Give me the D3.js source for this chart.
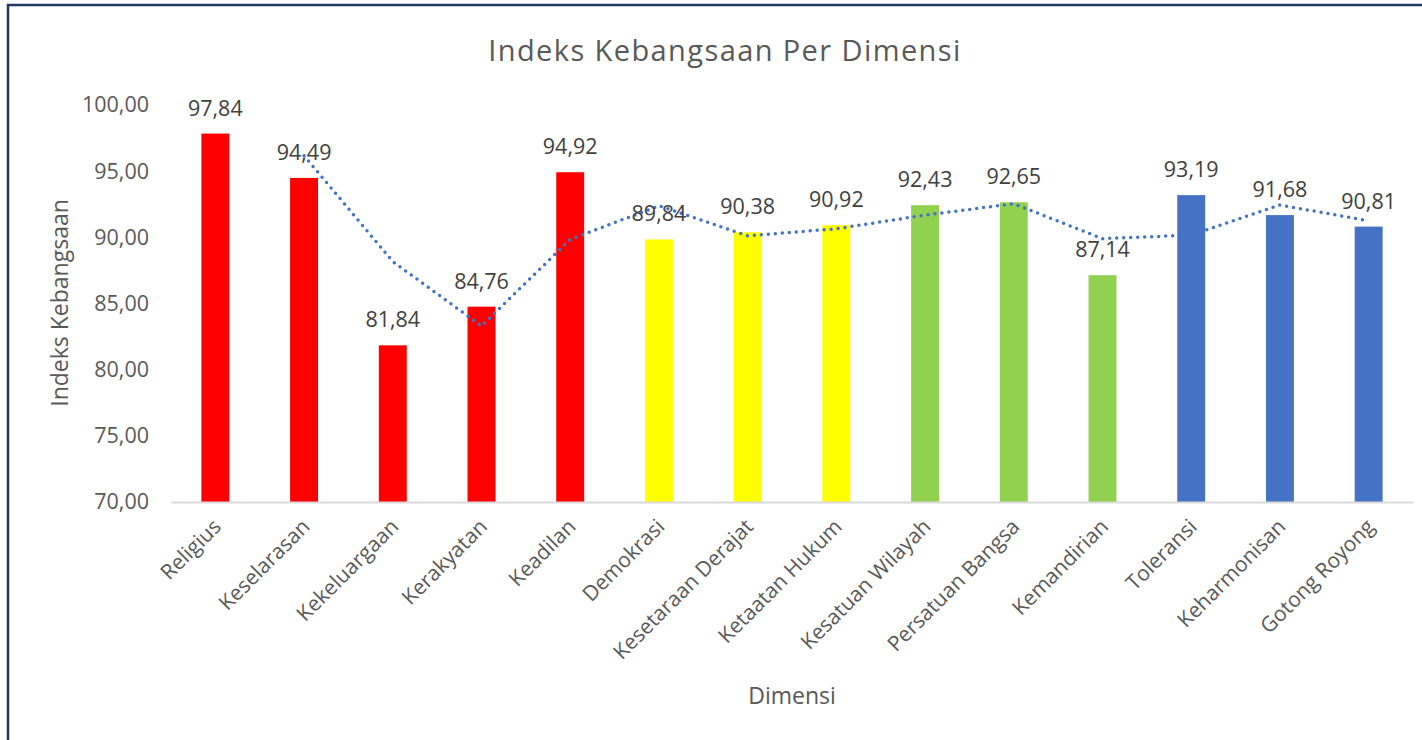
<!DOCTYPE html>
<html>
<head>
<meta charset="utf-8">
<script src="https://cdn.jsdelivr.net/npm/d3@7"></script>
<style>
  html, body { margin: 0; padding: 0; background: #fff; }
  svg { display: block; font-family: "Open Sans", "Noto Sans", sans-serif; }
</style>
</head>
<body>
<svg id="chart" width="1422" height="740"></svg>
<script>
const categories = [
  "Religius", "Keselarasan", "Kekeluargaan", "Kerakyatan", "Keadilan",
  "Demokrasi", "Kesetaraan Derajat", "Ketaatan Hukum", "Kesatuan Wilayah",
  "Persatuan Bangsa", "Kemandirian", "Toleransi", "Keharmonisan", "Gotong Royong"
];
const values = [97.84, 94.49, 81.84, 84.76, 94.92, 89.84, 90.38, 90.92, 92.43, 92.65, 87.14, 93.19, 91.68, 90.81];
const groups = ["r", "r", "r", "r", "r", "y", "y", "y", "g", "g", "g", "b", "b", "b"];
// dotted trend line (starts at the 2nd category)
const trend = [null, 96.17, 88.17, 83.30, 89.84, 92.38, 90.11, 90.65, 91.68, 92.54, 89.90, 90.17, 92.44, 91.25];
const yTicks = [70, 75, 80, 85, 90, 95, 100];

const width = 1422, height = 740;
const marginLeft = 171, marginRight = 9, yTop = 105, yBottom = 502;

const svg = d3.select("#chart");
const fmt = (v) => v.toFixed(2).replace(".", ",");

const color = d3.scaleOrdinal()
  .domain(["r", "y", "g", "b"])
  .range(["#ff0000", "#ffff00", "#92d050", "#4472c4"]);

const x = d3.scaleBand()
  .domain(categories)
  .range([marginLeft, width - marginRight])
  .paddingInner(0.685)
  .paddingOuter(0.3425);

const y = d3.scaleLinear().domain([70, 100]).range([yBottom, yTop]);

// frame
svg.append("path")
  .attr("d", "M8,740 L8,5 L1422,5")
  .attr("fill", "none")
  .attr("stroke", "#1f3864")
  .attr("stroke-width", 2.5);

// title
svg.append("text")
  .attr("x", 725)
  .attr("y", 61)
  .attr("text-anchor", "middle")
  .attr("fill", "#595959")
  .attr("font-size", 29)
  .attr("letter-spacing", 1.4)
  .text("Indeks Kebangsaan Per Dimensi");

// bars
svg.append("g")
  .selectAll("rect")
  .data(values)
  .join("rect")
  .attr("x", (d, i) => x(categories[i]))
  .attr("width", x.bandwidth())
  .attr("y", (d) => y(d))
  .attr("height", (d) => y(70) - y(d))
  .attr("fill", (d, i) => color(groups[i]));

// y axis
const yAxisG = svg.append("g")
  .attr("transform", `translate(${marginLeft},0)`)
  .call(d3.axisLeft(y).tickValues(yTicks).tickFormat(fmt).tickSize(0).tickPadding(22));
yAxisG.select(".domain").remove();
yAxisG.selectAll("text")
  .attr("fill", "#595959")
  .attr("font-size", 21.5)
  .attr("font-family", "Open Sans, Noto Sans, sans-serif");

// x axis
const xAxisG = svg.append("g")
  .attr("transform", `translate(0,${yBottom})`)
  .call(d3.axisBottom(x).tickSize(0).tickSizeOuter(0));
xAxisG.select(".domain").attr("stroke", "#d9d9d9").attr("stroke-width", 2);
xAxisG.selectAll("text")
  .attr("fill", "#595959")
  .attr("font-size", 21)
  .attr("font-family", "Open Sans, Noto Sans, sans-serif")
  .attr("text-anchor", "end")
  .attr("y", 0)
  .attr("dy", 0)
  .attr("transform", "translate(7,26) rotate(-45)");

// trend line
const line = d3.line()
  .defined((d) => d != null)
  .x((d, i) => x(categories[i]) + x.bandwidth() / 2)
  .y((d) => y(d));

svg.append("path")
  .datum(trend)
  .attr("d", line)
  .attr("fill", "none")
  .attr("stroke", "#4472c4")
  .attr("stroke-width", 3.5)
  .attr("stroke-linecap", "round")
  .attr("stroke-dasharray", "0,7");

// data labels
svg.append("g")
  .selectAll("text")
  .data(values)
  .join("text")
  .attr("x", (d, i) => x(categories[i]) + x.bandwidth() / 2)
  .attr("y", (d) => y(d) - 18)
  .attr("text-anchor", "middle")
  .attr("fill", "#404040")
  .attr("font-size", 21.5)
  .text(fmt);

// axis titles
svg.append("text")
  .attr("transform", `translate(68,303) rotate(-90)`)
  .attr("text-anchor", "middle")
  .attr("fill", "#595959")
  .attr("font-size", 23)
  .text("Indeks Kebangsaan");

svg.append("text")
  .attr("x", 792)
  .attr("y", 704)
  .attr("text-anchor", "middle")
  .attr("fill", "#595959")
  .attr("font-size", 23)
  .text("Dimensi");
</script>
</body>
</html>
